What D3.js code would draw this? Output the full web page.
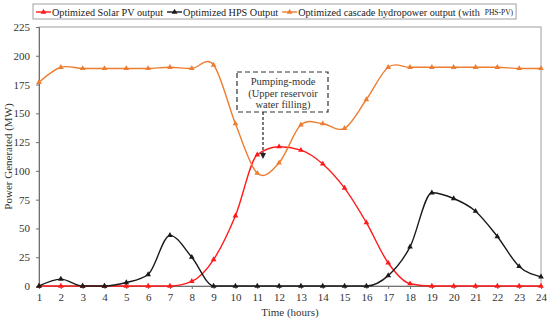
<!DOCTYPE html>
<html>
<head>
<script src="https://d3js.org/d3.v7.min.js"></script>
<style>
  html, body { margin: 0; padding: 0; background: #fff; }
  svg { display: block; font-family: "Liberation Serif", "DejaVu Serif", serif; }
</style>
</head>
<body>
<div id="chart"></div>
<script>
// hours 1..24
var hours = d3.range(1, 25);
var solarPV = [0, 0, 0, 0, 0, 0, 0, 4, 23, 61, 114, 121, 118, 106, 85, 55, 20, 2, 0, 0, 0, 0, 0, 0];
var hps = [0, 6, 0, 0, 3, 10, 44, 25, 0, 0, 0, 0, 0, 0, 0, 0, 9, 34, 81, 76, 65, 43, 17, 8];
var cascade = [177, 190, 189, 189, 189, 189, 190, 189, 192, 141, 98, 107, 140, 141, 137, 162, 190, 190, 190, 190, 190, 190, 189, 189];
var yTicks = [0, 25, 50, 75, 100, 125, 150, 175, 200, 225];

var series = [
  {name: "Optimized Solar PV output", values: solarPV, color: "#ff1a1a", curve: d3.curveMonotoneX},
  {name: "Optimized HPS Output", values: hps, color: "#1a1a1a", curve: d3.curveMonotoneX},
  {name: "Optimized cascade hydropower output (with", values: cascade, color: "#ed7d31", extra: "PHS-PV)", curve: d3.curveCatmullRom.alpha(0)}
];

var width = 550, height = 323;
var margin = {top: 27, right: 9, bottom: 37, left: 39};

var svg = d3.select("#chart").append("svg")
    .attr("width", width)
    .attr("height", height);

var x = d3.scaleLinear().domain([1, 24]).range([margin.left, width - margin.right]);
var y = d3.scaleLinear().domain([0, 225]).range([height - margin.bottom, margin.top]);

// plot frame
svg.append("rect")
    .attr("x", x(1)).attr("y", y(225))
    .attr("width", x(24) - x(1)).attr("height", y(0) - y(225))
    .attr("fill", "none").attr("stroke", "#a0a0a0").attr("stroke-width", 1);

var xAxis = svg.append("g")
    .attr("transform", "translate(0," + y(0) + ")")
    .call(d3.axisBottom(x).tickValues(hours).tickFormat(d3.format("d")).tickSize(3).tickPadding(4));
var yAxis = svg.append("g")
    .attr("transform", "translate(" + x(1) + ",0)")
    .call(d3.axisLeft(y).tickValues(yTicks).tickSize(3).tickPadding(6));

[xAxis, yAxis].forEach(function(a) {
  a.select(".domain").attr("stroke", "#707070");
  a.selectAll(".tick line").attr("stroke", "#707070");
  a.selectAll("text").attr("font-family", "Liberation Serif, serif").attr("font-size", 11).attr("fill", "#333");
});

// axis titles
svg.append("text")
    .attr("x", (x(1) + x(24)) / 2).attr("y", 316)
    .attr("text-anchor", "middle").attr("font-size", 11).attr("fill", "#333")
    .text("Time (hours)");
svg.append("text")
    .attr("transform", "translate(12," + ((y(0) + y(225)) / 2) + ") rotate(-90)")
    .attr("text-anchor", "middle").attr("font-size", 11).attr("fill", "#333")
    .text("Power Generated (MW)");

var sym = d3.symbol().type(d3.symbolTriangle).size(14);

series.forEach(function(s) {
  var line = d3.line()
      .x(function(d, i) { return x(hours[i]); })
      .y(function(d) { return y(d); })
      .curve(s.curve);
  svg.append("path")
      .datum(s.values)
      .attr("fill", "none")
      .attr("stroke", s.color)
      .attr("stroke-width", 1.4)
      .attr("d", line);
  svg.append("g").selectAll("path")
      .data(s.values)
      .enter().append("path")
      .attr("transform", function(d, i) { return "translate(" + x(hours[i]) + "," + y(d) + ")"; })
      .attr("d", sym)
      .attr("fill", s.color);
});

// annotation
var ann = svg.append("g");
ann.append("rect")
    .attr("x", 237).attr("y", 72).attr("width", 91).attr("height", 40)
    .attr("fill", "#fff").attr("stroke", "#333").attr("stroke-width", 1.2)
    .attr("stroke-dasharray", "5,3");
["Pumping-mode", "(Upper reservoir", "water filling)"].forEach(function(t, i) {
  ann.append("text")
      .attr("x", 283).attr("y", 85 + i * 11.5)
      .attr("text-anchor", "middle").attr("font-size", 10.5).attr("fill", "#333")
      .text(t);
});
svg.append("defs").append("marker")
    .attr("id", "arr").attr("viewBox", "0 0 10 10").attr("refX", 5).attr("refY", 5)
    .attr("markerWidth", 5).attr("markerHeight", 5).attr("orient", "auto")
    .append("path").attr("d", "M0,0 L10,5 L0,10 z").attr("fill", "#222");
ann.append("line")
    .attr("x1", 263).attr("y1", 112).attr("x2", 263).attr("y2", 156)
    .attr("stroke", "#222").attr("stroke-width", 1.2)
    .attr("stroke-dasharray", "3,2").attr("marker-end", "url(#arr)");

// legend
var leg = svg.append("g");
var lx = 36, ly = 12;
series.forEach(function(s) {
  leg.append("line")
      .attr("x1", lx).attr("x2", lx + 15).attr("y1", ly).attr("y2", ly)
      .attr("stroke", s.color).attr("stroke-width", 1.4);
  leg.append("path")
      .attr("transform", "translate(" + (lx + 7.5) + "," + ly + ")")
      .attr("d", sym).attr("fill", s.color);
  var t = leg.append("text")
      .attr("x", lx + 16).attr("y", ly + 3.5)
      .attr("font-size", 10.2).attr("fill", "#222")
      .text(s.name);
  lx += 16 + t.node().getComputedTextLength() + 4;
  if (s.extra) {
    var t2 = leg.append("text")
        .attr("x", lx + 1).attr("y", ly + 3)
        .attr("font-size", 7.5).attr("fill", "#222")
        .text(s.extra);
    lx += t2.node().getComputedTextLength() + 4;
  }
});
leg.insert("rect", ":first-child")
    .attr("x", 33).attr("y", 4).attr("width", lx - 33).attr("height", 15)
    .attr("fill", "#fff").attr("stroke", "#a0a0a0");
</script>
</body>
</html>
